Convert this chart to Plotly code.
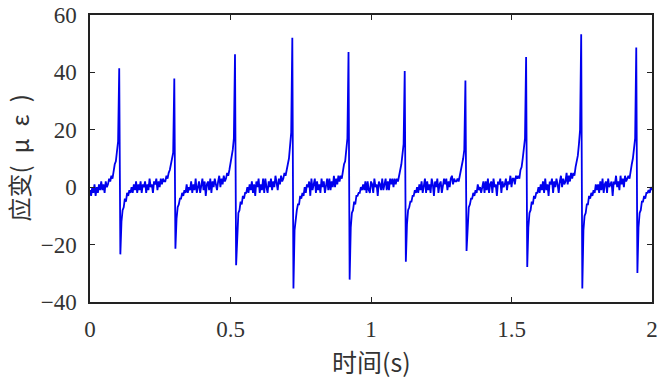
import numpy as np
import plotly.graph_objects as go

# sampling interval of the strain record (s)
sample_interval = 0.004

# strain values (micro-strain), segment by segment
seg0 = [-1, -3, 0, -2, 1, -3, 0, -2, 1, -1, 2, -1, 1, -2, 2, 0, 1, 3, 2, 4, 3, 6, 8, 9, 12, 16]
spike1 = [41.4, -23.4]
seg1 = [-12, -8, -7, -4, -5, -2, -3, -1, -2, 0, -2, 1, -1,
        2, -2, 1, -1, 2, -2, 1, 0, 2, -2, 1, -1, 3, 0, 1, -2, 2, 1, 3, -1, 2, 0, 3, 1, 3, 2,
        2, 4, 3, 5, 6, 8, 10, 12]
spike2 = [37.9, -21.4]
seg2 = [-11, -7, -6, -4, -4, -2, -3, -1, -2, 1, -2, 0, -1,
        2, -2, 1, -1, 3, -2, 0, 2, -2, 1, 3, -1, 2, -3, 1, 2, -1, 3, -2, 2, 0, 3, 1, -1, 2, 4, 0, 3, 1, 4, 2,
        3, 5, 4, 6, 8, 10, 13, 17]
spike3 = [46.3, -27.2]
seg3 = [-14, -9, -8, -5, -6, -3, -4, -2, -2, 0, -2, 1, -1,
        2, -2, 1, -3, 2, 0, 3, -2, 1, -1, 3, -2, 3, 0, -2, 2, 0, 3, -1, 2, 0, 4, 1, -1, 3, 1, 4, 2,
        3, 5, 4, 7, 8, 10, 14, 19]
spike4 = [52.1, -35.3]
seg4 = [-15, -10, -8, -6, -6, -3, -4, -2, -3, 0, -2, 1, 0,
        2, -3, 3, -1, 1, 3, -2, 2, -1, 1, -2, 3, 0, 2, -2, 1, 3, -1, 3, -1, 2, 0, 4, 0, 3, 1, 4,
        2, 4, 3, 6, 8, 9, 13, 17]
spike5 = [47.1, -32.2]
seg5 = [-14, -9, -8, -5, -6, -3, -3, -2, -2, 0, -1, 1, -1,
        2, -2, 2, -1, -2, 2, 1, -2, 3, 0, 1, -3, 2, 1, -1, 3, -1, 1, 3, -1, 2, -1, 3, 1, 3, 0, 3,
        1, 3, 2, 5, 6, 8, 11, 15]
spike6 = [40.5, -26.0]
seg6 = [-13, -8, -7, -5, -5, -3, -3, -1, -2, 0, -2, 1, -1,
        2, -2, 1, 3, -2, 2, -1, 1, -2, 3, 1, -3, 2, 0, 3, -2, 1, 2, -2, 0, 3, 1, 3, -1, 2, 0, 3, 4, 1, 3, 2,
        2, 3, 2, 4, 5, 7, 10, 13]
spike7 = [37.2, -22.2]
seg7 = [-11, -7, -6, -4, -4, -2, -3, -1, -2, 1, -1, 0, -2,
        1, 2, -2, 2, -1, 3, -2, 1, 2, -2, 3, 0, 1, -3, 2, 1, 3, -2, 2, 0, 1, 3, -1, 2, 1, 4, 0, 3, 3, 1, 4,
        3, 4, 3, 6, 7, 10, 13, 17]
spike8 = [45.4, -27.8]
seg8 = [-14, -9, -8, -5, -6, -3, -4, -2, -2, 0, -2, 1, -1,
        2, -2, 3, -1, 1, -3, 2, 1, 3, -2, 2, 0, 3, 1, -2, 2, 4, 0, 3, 1, 2, 5, 1, 4, 2, 5,
        3, 5, 4, 7, 9, 11, 15, 20]
spike9 = [53.3, -35.3]
seg9 = [-15, -10, -9, -6, -6, -3, -4, -2, -3, -1, -2, 1, -1,
        1, -2, 2, -1, 3, -2, 1, 2, -2, 3, 0, 1, 2, -3, 2, 1, 4, 0, 2, -1, 4, 1, 3, 0, 4, 2,
        3, 4, 3, 6, 8, 10, 13, 17]
spike10 = [48.7, -29.9]
seg10 = [-14, -9, -8, -5, -5, -3, -4, -2, -2, -1, -2, 0, -1]

strain = (seg0 + spike1 + seg1 + spike2 + seg2 + spike3 + seg3 + spike4 + seg4 + spike5 + seg5
          + spike6 + seg6 + spike7 + seg7 + spike8 + seg8 + spike9 + seg9 + spike10 + seg10)
time = np.arange(len(strain)) * sample_interval

x_ticks = [0, 0.5, 1, 1.5, 2]
x_tick_text = ["0", "0.5", "1", "1.5", "2"]
y_ticks = [-40, -20, 0, 20, 40, 60]
x_title = "时间(s)"
y_title = "应变(\u2002μ\u2002ε\u2002)"

fig = go.Figure()
fig.add_trace(go.Scatter(x=time, y=strain, mode="lines",
                         line=dict(color="#0000ee", width=1.8), showlegend=False))

tick_font = dict(family="Liberation Serif, DejaVu Serif, serif", size=23, color="#333333")
title_font = dict(family="Noto Sans CJK SC, sans-serif", size=24, color="#333333")

axis_common = dict(showline=True, linecolor="#222222", linewidth=1.5, mirror="ticks",
                   ticks="inside", ticklen=5, tickwidth=1.2, tickcolor="#222222",
                   showgrid=False, zeroline=False, tickfont=tick_font, automargin=False,
                   ticklabeloverflow="allow")

fig.update_xaxes(range=[0, 2], tickvals=x_ticks, ticktext=x_tick_text,
                 ticklabelstandoff=6, **axis_common)
fig.update_yaxes(range=[-40, 60], tickvals=y_ticks, ticklabelstandoff=7, **axis_common)

fig.add_annotation(text=x_title, xref="paper", yref="paper", x=0.5, y=-0.205,
                   xanchor="center", yanchor="middle", showarrow=False,
                   font=dict(family="Noto Sans CJK SC, sans-serif", size=25, color="#333333"))
fig.add_annotation(text=y_title, xref="paper", yref="paper", x=-0.128, y=0.5,
                   xanchor="center", yanchor="middle", showarrow=False, textangle=-90,
                   font=title_font)

fig.update_layout(width=666, height=378, margin=dict(l=90, r=14, t=15, b=76),
                  paper_bgcolor="white", plot_bgcolor="white")

# remove the default page margin so the figure fills the window exactly
fig.write_html("out.html", config={"displayModeBar": False},
               post_script="document.body.style.margin='0';")
